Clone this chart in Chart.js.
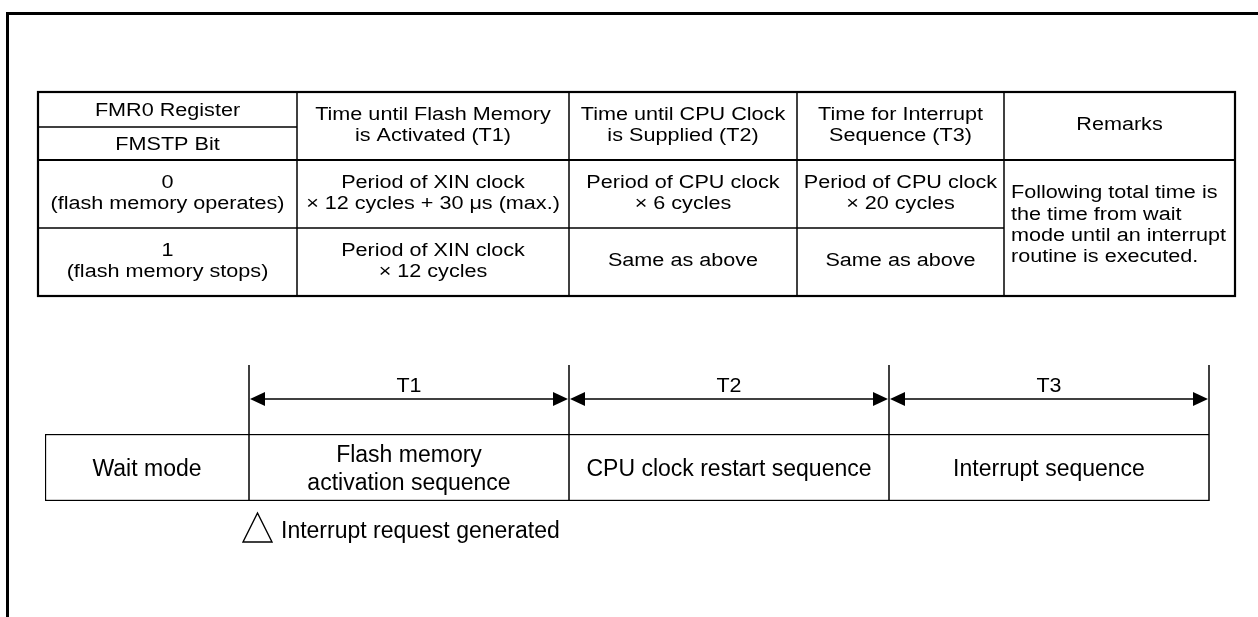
<!DOCTYPE html>
<html>
<head>
<meta charset="utf-8">
<script src="https://cdn.jsdelivr.net/npm/chart.js@4.4.0/dist/chart.umd.min.js"></script>
<style>
  body { margin: 0; background: #fff; }
  canvas { display: block; }
</style>
</head>
<body>
<canvas id="wait_chart" width="1258" height="617"></canvas>
<script>
// TABLE TEXT
const registerHeader = ['FMR0 Register', 'FMSTP Bit'];
const columnHeaders = [
  ['Time until Flash Memory', 'is Activated (T1)'],
  ['Time until CPU Clock', 'is Supplied (T2)'],
  ['Time for Interrupt', 'Sequence (T3)'],
  ['Remarks'],
];
const bitValues = [['0', '(flash memory operates)'], ['1', '(flash memory stops)']];
const t1Times = [['Period of XIN clock', '\u00d7 12 cycles + 30 \u03bcs (max.)'], ['Period of XIN clock', '\u00d7 12 cycles']];
const t2Times = [['Period of CPU clock', '\u00d7 6 cycles'], ['Same as above']];
const t3Times = [['Period of CPU clock', '\u00d7 20 cycles'], ['Same as above']];
const remarks = ['Following total time is', 'the time from wait', 'mode until an interrupt', 'routine is executed.'];

// TIMELINE DATA (x in T periods, wait mode ends at 0)
const phaseNames = [['Wait mode'], ['Flash memory', 'activation sequence'], ['CPU clock restart sequence'], ['Interrupt sequence']];
const phaseStart = [-0.6375, 0, 1, 2];
const phaseEnd = [0, 1, 2, 3];
const periodLabels = ['T1', 'T2', 'T3'];
const periodBounds = [0, 1, 2, 3];
const eventLabel = 'Interrupt request generated';

// LAYOUT
const FONT = '"Liberation Sans", Arial, sans-serif';
const colEdges = [38, 297, 569, 797, 1004, 1235];
const rowEdges = [92, 160, 228, 296];
const headerSplit = 127;

function txt(ctx, s, x, y, size, sx, align) {
  ctx.save();
  ctx.font = size + 'px ' + FONT;
  ctx.textAlign = align || 'center';
  ctx.textBaseline = 'alphabetic';
  ctx.fillStyle = '#000';
  ctx.translate(x, y);
  ctx.scale(sx || 1, 1);
  ctx.fillText(s, 0, 0);
  ctx.restore();
}

function block(ctx, lines, x, cy, size, sx, lineH, shift, align) {
  const n = lines.length;
  lines.forEach((s, i) => {
    const y = cy + (i - (n - 1) / 2) * lineH + size * 0.358 + shift;
    txt(ctx, s, x, y, size, sx, align);
  });
}

function line(ctx, x1, y1, x2, y2, w) {
  ctx.beginPath();
  ctx.lineWidth = w;
  ctx.moveTo(x1, y1);
  ctx.lineTo(x2, y2);
  ctx.stroke();
}

// FRAME + TABLE
const tablePlugin = {
  id: 'table',
  afterDraw(chart) {
    const ctx = chart.ctx;
    ctx.save();
    ctx.strokeStyle = '#000';
    // page frame
    line(ctx, 6, 13.5, 1258, 13.5, 3);
    line(ctx, 7.5, 12, 7.5, 617, 3);

    const L = colEdges[0], R = colEdges[5], T = rowEdges[0], B = rowEdges[3];
    // inner lines
    for (let c = 1; c < 5; c++) line(ctx, colEdges[c], T, colEdges[c], B, 1.5);
    line(ctx, L, headerSplit, colEdges[1], headerSplit, 1.5);
    line(ctx, L, rowEdges[1], R, rowEdges[1], 2.2);
    line(ctx, L, rowEdges[2], colEdges[4], rowEdges[2], 1.5);
    ctx.lineWidth = 2.2;
    ctx.strokeRect(L, T, R - L, B - T);

    const fs = 18, sx = 1.2, lh = 20.8, sh = -2;
    const cx = c => (colEdges[c] + colEdges[c + 1]) / 2;
    const cy = r => (rowEdges[r] + rowEdges[r + 1]) / 2;

    block(ctx, [registerHeader[0]], cx(0), (T + headerSplit) / 2, fs, sx, lh, 0);
    block(ctx, [registerHeader[1]], cx(0), (headerSplit + rowEdges[1]) / 2, fs, sx, lh, 0);
    columnHeaders.forEach((h, i) => block(ctx, h, cx(i + 1), cy(0), fs, sx, lh, sh));

    [bitValues, t1Times, t2Times, t3Times].forEach((col, c) => {
      col.forEach((cell, r) => block(ctx, cell, cx(c), cy(r + 1), fs, sx, lh, sh));
    });
    block(ctx, remarks, colEdges[4] + 7, (rowEdges[1] + B) / 2, fs, sx, 21.3, sh - 2, 'left');
    ctx.restore();
  },
};

// TIMELINE MARKERS
const timelinePlugin = {
  id: 'timeline',
  afterDatasetsDraw(chart) {
    const ctx = chart.ctx;
    const xs = chart.scales.x;
    const area = chart.chartArea;
    const arrowY = area.top - 35;
    ctx.save();
    ctx.strokeStyle = '#000';
    ctx.fillStyle = '#000';

    periodBounds.forEach(v => {
      const px = xs.getPixelForValue(v);
      line(ctx, px, area.top - 69, px, area.bottom, 1.5);
    });

    const head = (tip, dir) => {
      ctx.beginPath();
      ctx.moveTo(tip, arrowY);
      ctx.lineTo(tip + dir * 15, arrowY - 7);
      ctx.lineTo(tip + dir * 15, arrowY + 7);
      ctx.closePath();
      ctx.fill();
    };
    periodLabels.forEach((lab, i) => {
      const a = xs.getPixelForValue(periodBounds[i]);
      const b = xs.getPixelForValue(periodBounds[i + 1]);
      line(ctx, a + 4, arrowY, b - 4, arrowY, 1.5);
      head(a + 1, 1);
      head(b - 1, -1);
      txt(ctx, lab, (a + b) / 2, arrowY - 7, 19.5, 1.1);
    });

    // bar labels
    chart.data.datasets.forEach((ds, i) => {
      const el = chart.getDatasetMeta(i).data[0];
      const mid = (el.x + el.base) / 2;
      block(ctx, phaseNames[i], mid, el.y, 23, 1, 28, 0);
    });

    // interrupt request marker
    const x0 = xs.getPixelForValue(0);
    const ty = area.bottom + 12;
    ctx.lineWidth = 1.4;
    ctx.beginPath();
    ctx.moveTo(x0 - 6, ty + 29);
    ctx.lineTo(x0 + 23, ty + 29);
    ctx.lineTo(x0 + 8.5, ty);
    ctx.closePath();
    ctx.stroke();
    txt(ctx, eventLabel, x0 + 32, ty + 25, 23, 1, 'left');
    ctx.restore();
  },
};

const ctx = document.getElementById('wait_chart').getContext('2d');

new Chart(ctx, {
  type: 'bar',
  data: {
    labels: ['timeline'],
    datasets: phaseNames.map((name, i) => ({
      label: name.join(' '),
      data: [[phaseStart[i], phaseEnd[i]]],
      backgroundColor: '#fff',
      borderColor: '#000',
      borderWidth: { top: 1.5, bottom: 1.5, left: i === 0 ? 1.5 : 0, right: 0 },
      borderSkipped: false,
      grouped: false,
      barPercentage: 1,
      categoryPercentage: 1,
    })),
  },
  options: {
    indexAxis: 'y',
    responsive: false,
    animation: false,
    layout: { padding: { left: 45, right: 49, top: 434, bottom: 116 } },
    scales: {
      x: { type: 'linear', min: phaseStart[0], max: 3, display: false },
      y: { display: false },
    },
    plugins: { legend: { display: false }, tooltip: { enabled: false } },
  },
  plugins: [tablePlugin, timelinePlugin],
});
</script>
</body>
</html>
